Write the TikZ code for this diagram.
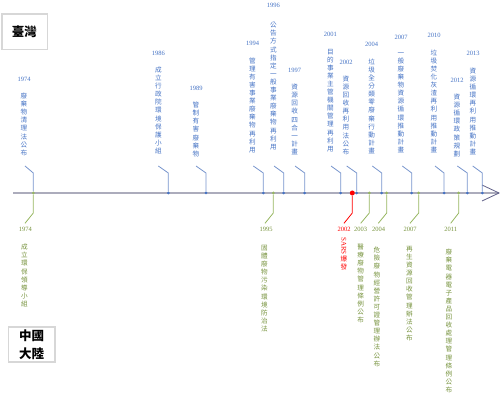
\documentclass[tikz,border=0pt]{standalone}
\usepackage{fontspec}
\setmainfont{Liberation Serif}
\newfontfamily\cjk{Noto Sans CJK TC}
\usetikzlibrary{positioning}

\definecolor{twblue}{RGB}{68,114,196}
\definecolor{twleader}{RGB}{118,148,204}
\definecolor{cngreen}{RGB}{118,146,60}
\definecolor{cnleader}{RGB}{150,182,96}
\definecolor{sarsred}{RGB}{255,0,0}
\definecolor{axisgray}{RGB}{172,172,188}
\definecolor{tipgray}{RGB}{96,96,136}
\definecolor{boxgray}{RGB}{215,215,215}

% one character per line
\ExplSyntaxOn
\NewDocumentCommand{\vtxt}{m}{
  \vbox{\baselineskip=8.1pt\lineskiplimit=-10pt
    \tl_map_inline:nn{#1}{\hbox_to_wd:nn{1em}{\hss##1\hss}}}}
\ExplSyntaxOff

\begin{document}
\begin{tikzpicture}[x=1pt,y=-1pt]
	
	% Styles for the two sides of the time line
	\tikzset{
		twdot/.style={circle,fill=twblue,inner sep=0pt,minimum size=3pt},
		cndot/.style={circle,fill=cnleader,inner sep=0pt,minimum size=3pt},
		twline/.style={draw=twleader,line width=0.8pt},
		cnline/.style={draw=cnleader,line width=0.8pt},
		twtext/.style={text=twblue,font=\cjk\fontsize{6.6}{8.1}\selectfont,inner sep=0pt,anchor=south},
		cntext/.style={text=cngreen,font=\cjk\fontsize{6.6}{8.1}\selectfont,inner sep=0pt,anchor=north},
		twyear/.style={text=twblue,font=\fontsize{6.5}{7}\selectfont,inner sep=0pt},
		cnyear/.style={text=cngreen,font=\fontsize{6.5}{7}\selectfont,inner sep=0pt},
		regionbox/.style={draw=boxgray,line width=1.6pt,align=center,inner sep=0pt,
			font=\cjk\bfseries\fontsize{12.5}{18}\selectfont}
	}
	
	\useasboundingbox (0,0) rectangle (501,395);
	
	%========================================
	% Region labels
	%========================================
	\node[regionbox,minimum width=45.6pt,minimum height=35.3pt] (taiwan) at (24.5,31.7) {臺灣};
	\node[regionbox,minimum width=46.7pt,minimum height=35pt] (mainland) at (31.7,344.8) {中國\\大陸};
	
	%========================================
	% Time axis
	%========================================
	\coordinate (axstart) at (13,193);
	\coordinate (axend) at (499,193);
	\coordinate (tipup) at (482,185);
	\coordinate (tipdown) at (482,201);
	\draw[draw=axisgray,line width=1.8pt] (axstart) -- (axend);
	\draw[draw=tipgray,line width=0.8pt] (tipup) -- (axend) -- (tipdown);
	
	%========================================
	% Taiwan (above the axis)
	%========================================
	
	% 1974 (shares the green dot of the mainland)
	\node[cndot] (cn1974) at (33.3,193) {};
	\coordinate (tw1974k) at (33.3,173);
	\coordinate (tw1974e) at (25,166);
	\draw[twline] (cn1974) -- (tw1974k) -- (tw1974e);
	\node[twtext] (tw1974t) at (24,156) {\vtxt{廢棄物清理法公布}};
	\node[twyear,above=11pt of tw1974t] (tw1974y) {1974};
	
	% 1986
	\node[twdot] (tw1986) at (168.3,193) {};
	\coordinate (tw1986k) at (168.3,173);
	\coordinate (tw1986e) at (158.3,166);
	\draw[twline] (tw1986) -- (tw1986k) -- (tw1986e);
	\node[twtext] (tw1986t) at (158.3,154) {\vtxt{成立行政院環境保護小組}};
	\node[twyear,above=11pt of tw1986t] (tw1986y) {1986};
	
	% 1989
	\node[twdot] (tw1989) at (206,193) {};
	\coordinate (tw1989k) at (206,173);
	\coordinate (tw1989e) at (196,166);
	\draw[twline] (tw1989) -- (tw1989k) -- (tw1989e);
	\node[twtext] (tw1989t) at (196,157) {\vtxt{管制有害廢棄物}};
	\node[twyear,above=11pt of tw1989t] (tw1989y) {1989};
	
	% 1994
	\node[twdot] (tw1994) at (263.3,193) {};
	\coordinate (tw1994k) at (263.3,173);
	\coordinate (tw1994e) at (253.3,166);
	\draw[twline] (tw1994) -- (tw1994k) -- (tw1994e);
	\node[twtext] (tw1994t) at (252.5,153) {\vtxt{管理有害事業廢棄物再利用}};
	\node[twyear,above=12pt of tw1994t] (tw1994y) {1994};
	
	% 1996
	\node[twdot] (tw1996) at (283.7,193) {};
	\coordinate (tw1996k) at (283.7,173);
	\coordinate (tw1996e) at (274,166);
	\draw[twline] (tw1996) -- (tw1996k) -- (tw1996e);
	\node[twtext] (tw1996t) at (273.3,150) {\vtxt{公告方式指定一般事業廢棄物再利用}};
	\node[twyear,above=14pt of tw1996t] (tw1996y) {1996};
	
	% 1997
	\node[twdot] (tw1997) at (304.7,193) {};
	\coordinate (tw1997k) at (304.7,173);
	\coordinate (tw1997e) at (295,166);
	\draw[twline] (tw1997) -- (tw1997k) -- (tw1997e);
	\node[twtext] (tw1997t) at (294.7,155) {\vtxt{資源回收四合一計畫}};
	\node[twyear,above=11pt of tw1997t] (tw1997y) {1997};
	
	% 2001
	\node[twdot] (tw2001) at (340.7,193) {};
	\coordinate (tw2001k) at (340.7,173);
	\coordinate (tw2001e) at (331,166);
	\draw[twline] (tw2001) -- (tw2001k) -- (tw2001e);
	\node[twtext] (tw2001t) at (330.3,152) {\vtxt{目的事業主管機關管理再利用}};
	\node[twyear,above=12pt of tw2001t] (tw2001y) {2001};
	
	% 2002
	\node[twdot] (tw2002) at (356.7,193) {};
	\coordinate (tw2002k) at (356.7,173);
	\coordinate (tw2002e) at (346.7,166);
	\draw[twline] (tw2002) -- (tw2002k) -- (tw2002e);
	\node[twtext] (tw2002t) at (346,155) {\vtxt{資源回收再利用法公布}};
	\node[twyear,above=11pt of tw2002t] (tw2002y) {2002};
	
	% 2004
	\node[twdot] (tw2004) at (381.7,193) {};
	\coordinate (tw2004k) at (381.7,173);
	\coordinate (tw2004e) at (372.3,166);
	\draw[twline] (tw2004) -- (tw2004k) -- (tw2004e);
	\node[twtext] (tw2004t) at (371.7,154) {\vtxt{垃圾全分類零廢棄行動計畫}};
	\node[twyear,above=12pt of tw2004t] (tw2004y) {2004};
	
	% 2007
	\node[twdot] (tw2007) at (411.7,193) {};
	\coordinate (tw2007k) at (411.7,173);
	\coordinate (tw2007e) at (402.3,166);
	\draw[twline] (tw2007) -- (tw2007k) -- (tw2007e);
	\node[twtext] (tw2007t) at (401,153) {\vtxt{一般廢棄物資源循環推動計畫}};
	\node[twyear,above=12pt of tw2007t] (tw2007y) {2007};
	
	% 2010
	\node[twdot] (tw2010) at (444,193) {};
	\coordinate (tw2010k) at (444,173);
	\coordinate (tw2010e) at (435,166);
	\draw[twline] (tw2010) -- (tw2010k) -- (tw2010e);
	\node[twtext] (tw2010t) at (434,153) {\vtxt{垃圾焚化灰渣再利用推動計畫}};
	\node[twyear,above=12pt of tw2010t] (tw2010y) {2010};
	
	% 2012
	\node[twdot] (tw2012) at (467.3,193) {};
	\coordinate (tw2012k) at (467.3,173);
	\coordinate (tw2012e) at (457.3,166);
	\draw[twline] (tw2012) -- (tw2012k) -- (tw2012e);
	\node[twtext] (tw2012t) at (457,157) {\vtxt{資源循環政策規劃}};
	\node[twyear,above=11pt of tw2012t] (tw2012y) {2012};
	
	% 2013
	\node[twdot] (tw2013) at (482.3,193) {};
	\coordinate (tw2013k) at (482.3,173);
	\coordinate (tw2013e) at (472.7,166);
	\draw[twline] (tw2013) -- (tw2013k) -- (tw2013e);
	\node[twtext] (tw2013t) at (473,155) {\vtxt{資源循環再利用推動計畫}};
	\node[twyear,above=12pt of tw2013t] (tw2013y) {2013};
	
	%========================================
	% Mainland China (below the axis)
	%========================================
	
	% 1974
	\coordinate (cn1974k) at (33.3,213);
	\coordinate (cn1974e) at (25,223.3);
	\draw[cnline] (cn1974) -- (cn1974k) -- (cn1974e);
	\node[cnyear] (cn1974y) at (25.5,229.3) {1974};
	\node[cntext] (cn1974t) at (24.5,244) {\vtxt{成立環保領導小組}};
	
	% 1995
	\node[cndot] (cn1995) at (273.3,193) {};
	\coordinate (cn1995k) at (273.3,213);
	\coordinate (cn1995e) at (265,223.3);
	\draw[cnline] (cn1995) -- (cn1995k) -- (cn1995e);
	\node[cnyear] (cn1995y) at (266,229.3) {1995};
	\node[cntext] (cn1995t) at (264.5,245) {\vtxt{固體廢物污染環境防治法}};
	
	% 2002: SARS
	\node[circle,fill=sarsred,inner sep=0pt,minimum size=5pt] (cn2002) at (352.3,193) {};
	\coordinate (cn2002k) at (352.3,213);
	\coordinate (cn2002e) at (344,223.3);
	\draw[draw=sarsred,line width=0.8pt] (cn2002) -- (cn2002k) -- (cn2002e);
	\node[cnyear,text=sarsred] (cn2002y) at (344,229.3) {2002};
	\node[cntext,text=sarsred] (cn2002t) at (344,237)
	{\vbox{\baselineskip=8.1pt\lineskiplimit=-10pt
			\hbox to 1em{\hss\rotatebox{-90}{\fontsize{7}{8}\selectfont\rmfamily SARS}\hss}
			\hbox to 1em{\hss 爆\hss}\hbox to 1em{\hss 發\hss}}};
	
	% 2003
	\node[cndot] (cn2003) at (369.3,193) {};
	\coordinate (cn2003k) at (369.3,213);
	\coordinate (cn2003e) at (360.7,223.3);
	\draw[cnline] (cn2003) -- (cn2003k) -- (cn2003e);
	\node[cnyear] (cn2003y) at (360.7,229.3) {2003};
	\node[cntext] (cn2003t) at (360.7,244) {\vtxt{醫療廢物管理條例公布}};
	
	% 2004
	\node[cndot] (cn2004) at (386.7,193) {};
	\coordinate (cn2004k) at (386.7,213);
	\coordinate (cn2004e) at (378.3,223.3);
	\draw[cnline] (cn2004) -- (cn2004k) -- (cn2004e);
	\node[cnyear] (cn2004y) at (378.7,229.3) {2004};
	\node[cntext] (cn2004t) at (377,247) {\vtxt{危險廢物經營許可證管理辦法公布}};
	
	% 2007
	\node[cndot] (cn2007) at (418.7,193) {};
	\coordinate (cn2007k) at (418.7,213);
	\coordinate (cn2007e) at (410,223.3);
	\draw[cnline] (cn2007) -- (cn2007k) -- (cn2007e);
	\node[cnyear] (cn2007y) at (410,229.3) {2007};
	\node[cntext] (cn2007t) at (409.3,246) {\vtxt{再生資源回收管理辦法公布}};
	
	% 2011
	\node[cndot] (cn2011) at (458.7,193) {};
	\coordinate (cn2011k) at (458.7,213);
	\coordinate (cn2011e) at (450.7,223.3);
	\draw[cnline] (cn2011) -- (cn2011k) -- (cn2011e);
	\node[cnyear] (cn2011y) at (450.7,229.3) {2011};
	\node[cntext] (cn2011t) at (449,249) {\vtxt{廢棄電器電子產品回收處理管理條例公布}};
	
\end{tikzpicture}
\end{document}
